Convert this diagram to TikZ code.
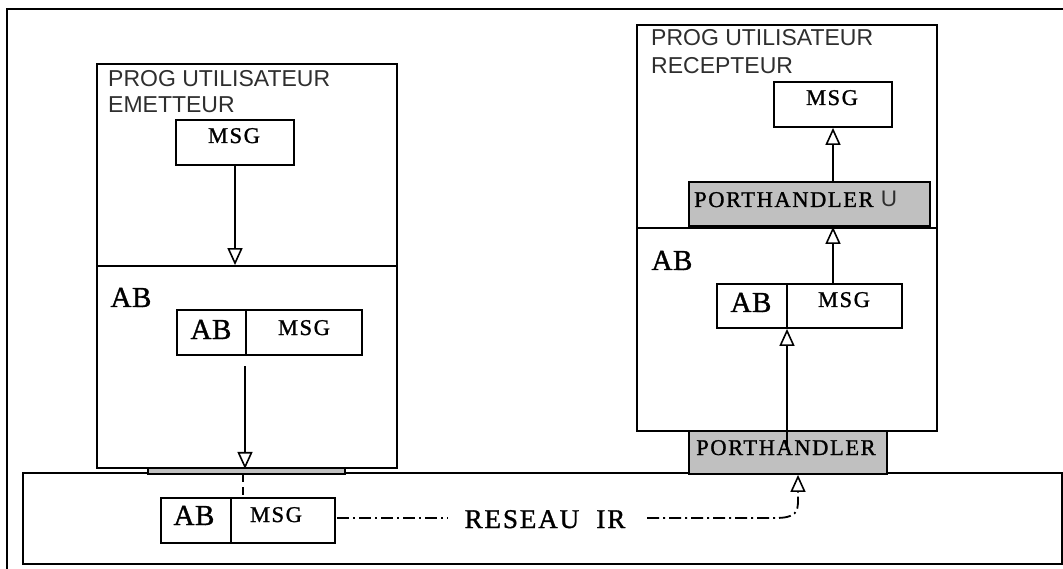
\documentclass[tikz,border=0pt]{standalone}
\usepackage{fontspec}
\setmainfont{Liberation Serif}
\newfontfamily\serf[LetterSpace=7,FakeBold=1.2]{Liberation Serif}
\newfontfamily\abfont[LetterSpace=2,FakeBold=1.2]{Liberation Serif}
\newfontfamily\progfont{Liberation Sans}
\usetikzlibrary{arrows.meta}
\definecolor{phgray}{HTML}{C0C0C0}
\definecolor{txtgray}{HTML}{2E2E2E}
\begin{document}
\begin{tikzpicture}[x=1pt,y=-1pt,
  box/.style={draw, line width=1.8pt, inner sep=0pt, fill=white},
  graybox/.style={box, fill=phgray},
  progtxt/.style={font=\progfont\fontsize{23}{27}\selectfont, text=txtgray, inner sep=0pt, anchor=base west},
  msgtxt/.style={font=\serf\fontsize{22.5}{26}\selectfont, inner sep=0pt, anchor=base},
  abtxt/.style={font=\abfont\fontsize{29}{32}\selectfont, inner sep=0pt, anchor=base},
  tip/.style={-{Triangle[open, width=15pt, length=17pt, line width=1.6pt]}},
  arr/.style={line width=2pt, tip},
  dashdot/.style={line width=1.8pt, dash pattern=on 12pt off 4pt on 2pt off 4pt},
  dashln/.style={line width=1.8pt, dash pattern=on 8pt off 5pt}
]
\useasboundingbox (0,0) rectangle (1063,569);
% outer frame
\draw[line width=1.4pt] (7,569) -- (7,9) -- (1063,9);
% network
\node[box, minimum width=1039pt, minimum height=91pt] (net) at (542.5,518.5) {};
% left column
\node[box, minimum width=300pt, minimum height=202pt] (progE) at (247,165) {};
\node[box, minimum width=300pt, minimum height=202pt] (abE) at (247,367) {};
\node[graybox, line width=1.4pt, minimum width=197pt, minimum height=6pt] (stripE) at (246.5,471) {};
\node[box, minimum width=118pt, minimum height=45pt] (msgE) at (235,142.5) {};
\node[box, minimum width=69pt, minimum height=45pt] (abE1) at (211.5,332.5) {};
\node[box, minimum width=116pt, minimum height=45pt] (msgE1) at (304,332.5) {};
% right column
\node[box, minimum width=300pt, minimum height=203pt] (progR) at (787,126.5) {};
\node[box, minimum width=300pt, minimum height=203pt] (abR) at (787,329.5) {};
\node[box, minimum width=118pt, minimum height=45pt] (msgR) at (833,104.5) {};
\node[graybox, minimum width=241pt, minimum height=44pt] (phU) at (809.5,204) {};
\node[box, minimum width=70pt, minimum height=44pt] (abR1) at (752,306) {};
\node[box, minimum width=115pt, minimum height=44pt] (msgR1) at (844.5,306) {};
\node[graybox, minimum width=198pt, minimum height=43pt] (ph) at (788,452.5) {};
% network inner
\node[box, minimum width=70pt, minimum height=45pt] (abN) at (196,520.5) {};
\node[box, minimum width=104pt, minimum height=45pt] (msgN) at (283,520.5) {};
% texts
\node[progtxt] (tpe1) at (108,87) {PROG UTILISATEUR};
\node[progtxt] (tpe2) at (108,113) {EMETTEUR};
\node[progtxt] (tpr1) at (651,46) {PROG UTILISATEUR};
\node[progtxt] (tpr2) at (651,74) {RECEPTEUR};
\node[msgtxt] (tmsgE) at (234,143) {MSG};
\node[abtxt] (tabE) at (131,307) {AB};
\node[abtxt] (tabE1) at (211,339) {AB};
\node[msgtxt] (tmsgE1) at (304,335) {MSG};
\node[msgtxt] (tmsgR) at (832,105) {MSG};
\node[msgtxt, anchor=base west] (tphU) at (694,207) {PORTHANDLER {\progfont\color{txtgray}U}};
\node[abtxt] (tabR) at (672,270) {AB};
\node[abtxt] (tabR1) at (751,312) {AB};
\node[msgtxt] (tmsgR1) at (844,307) {MSG};
\node[msgtxt] (tph) at (786,455) {PORTHANDLER};
\node[abtxt] (tabN) at (194,525) {AB};
\node[msgtxt] (tmsgN) at (276,522) {MSG};
\node[msgtxt, font=\serf\fontsize{27}{31}\selectfont] (reseau) at (545,528) {RESEAU\ \ IR};
% connectors
\draw[arr] (msgE.south) -- (msgE.south |- abE.north);
\coordinate (cE) at (245,366);
\draw[arr] (cE) -- (cE |- abE.south);
\coordinate (cN) at (243,474);
\draw[dashln] (cN) -- (cN |- msgN.north);
\draw[arr] (msgR.south |- phU.north) -- (msgR.south);
\draw[arr] (msgR.south |- msgR1.north) -- (msgR.south |- phU.south);
\coordinate (cP) at (787,450);
\draw[arr] (cP) -- (cP |- abR1.south);
\coordinate (d1) at (337,518);
\coordinate (d2) at (448,518);
\coordinate (d3) at (647,518);
\coordinate (d4) at (775,518);
\coordinate (d5) at (798,500);
\draw[dashdot] (d1) -- (d2);
\draw[dashdot, tip] (d3) -- (d4) .. controls (796,518) and (798,512) .. (d5) -- (d5 |- ph.south);
\end{tikzpicture}
\end{document}
